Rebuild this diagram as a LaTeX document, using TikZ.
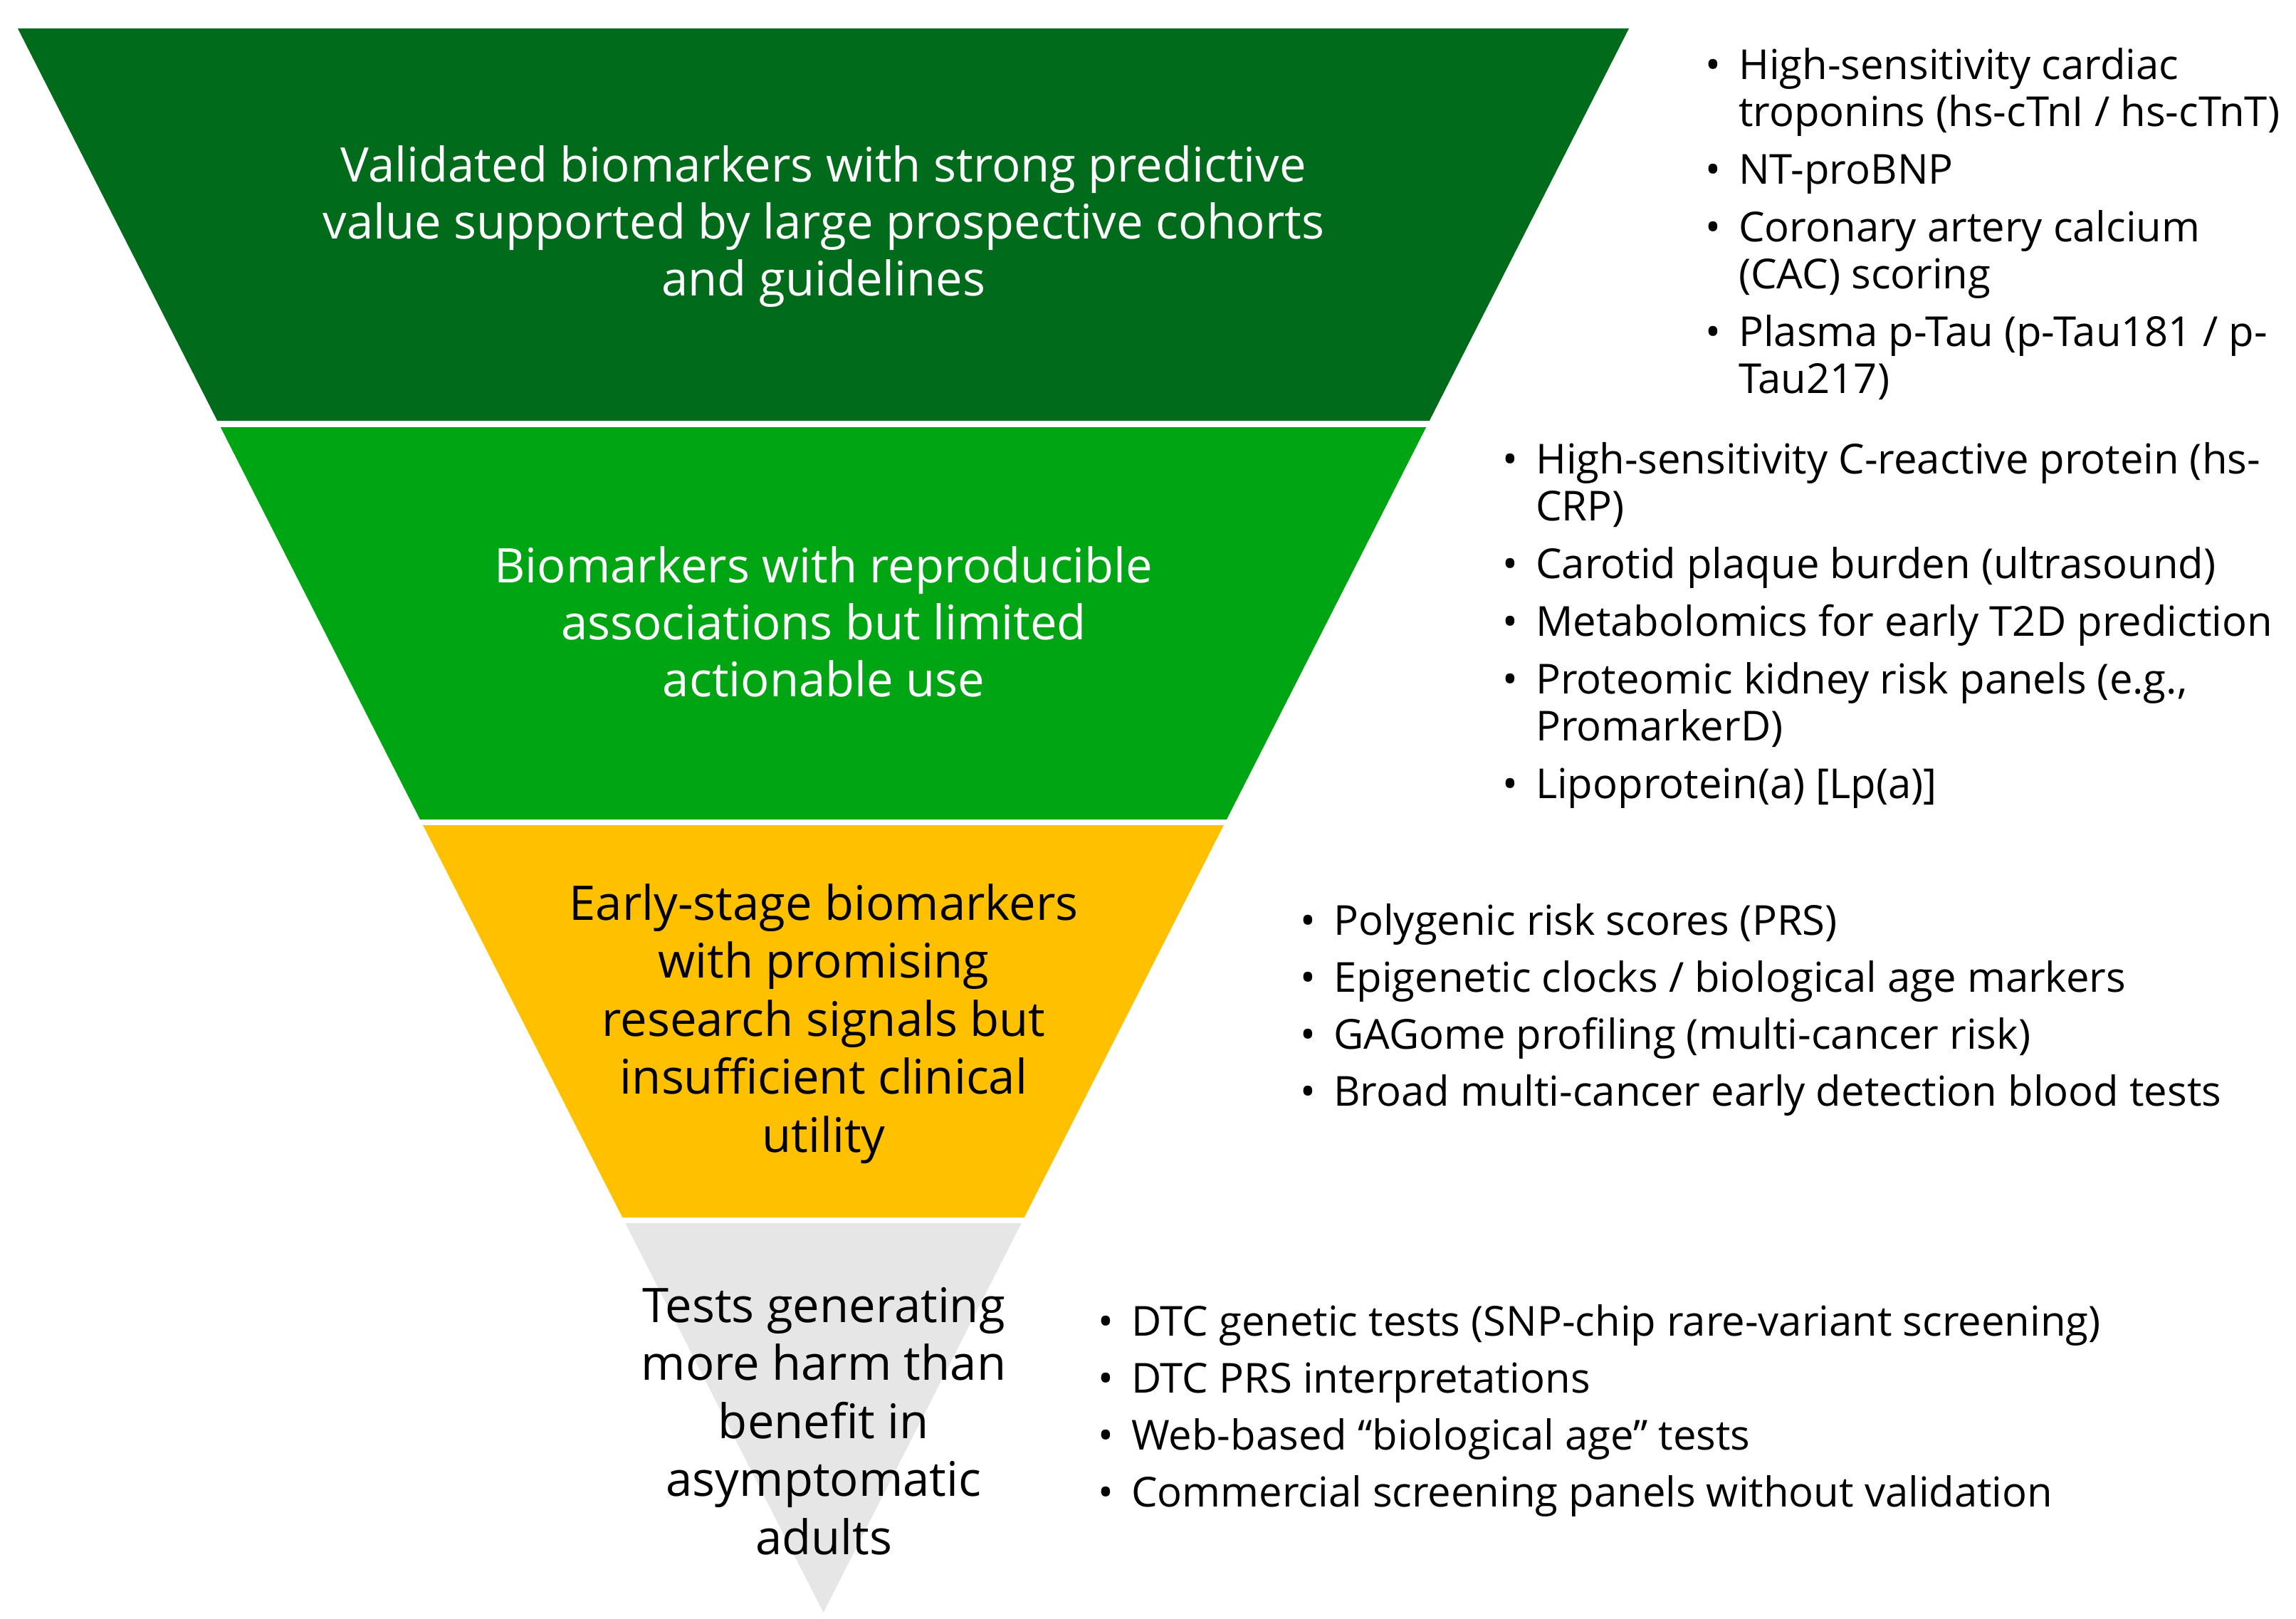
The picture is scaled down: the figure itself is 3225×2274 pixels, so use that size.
\documentclass[tikz,border=0pt]{standalone}
\usepackage{fontspec}
\setmainfont{Open Sans}
\definecolor{bandA}{RGB}{0,107,27}
\definecolor{bandB}{RGB}{0,165,20}
\definecolor{bandC}{RGB}{255,192,0}
\definecolor{bandD}{RGB}{231,230,230}
\newcommand{\bul}{\makebox[47pt][l]{•}}
\newcommand{\ind}{\hspace*{47pt}}
\tikzset{
  bandtext/.style={align=center, inner sep=0pt, font=\fontsize{67}{80}\selectfont},
  bandtextwide/.style={align=center, inner sep=0pt, font=\fontsize{67}{81.5}\selectfont},
  listtext/.style={anchor=base west, inner sep=0pt, font=\fontsize{58}{66}\selectfont}
}
\begin{document}
\begin{tikzpicture}[x=1pt,y=-1pt]
\useasboundingbox (0,0) rectangle (3225,2274);
% pyramid bands
\fill[bandA] (25,40) -- (2288,40) -- (2007.8,591) -- (305.2,591) -- cycle;
\fill[bandB] (309.8,600) -- (2003.2,600) -- (1723.0,1151) -- (590.0,1151) -- cycle;
\fill[bandC] (594.1,1159) -- (1718.9,1159) -- (1438.7,1710) -- (874.3,1710) -- cycle;
\fill[bandD] (878.3,1718) -- (1434.7,1718) -- (1156.5,2265) -- cycle;
% band texts
\node[bandtext, text=white] (t1) at (1157,318) {Validated biomarkers with strong predictive\\value supported by large prospective cohorts\\and guidelines};
\node[bandtext, text=white] (t2) at (1157,873) {Biomarkers with reproducible\\associations but limited\\actionable use};
\node[bandtextwide, text=black] (t3) at (1157,1438) {Early-stage biomarkers\\with promising\\research signals but\\insufficient clinical\\utility};
\node[bandtextwide, text=black] (t4) at (1157,1996) {Tests generating\\more harm than\\benefit in\\asymptomatic\\adults};
% lists
\node[listtext] (l1) at (2395,112) {\begin{tabular}[t]{@{}l@{}}
\bul High-sensitivity cardiac\\
\ind troponins (hs-cTnI / hs-cTnT)\\[15pt]
\bul NT-proBNP\\[15pt]
\bul Coronary artery calcium\\
\ind (CAC) scoring\\[15pt]
\bul Plasma p-Tau (p-Tau181 / p-\\
\ind Tau217)
\end{tabular}};
\node[listtext] (l2) at (2110,665) {\begin{tabular}[t]{@{}l@{}}
\bul High-sensitivity C-reactive protein (hs-\\
\ind CRP)\\[15pt]
\bul Carotid plaque burden (ultrasound)\\[15pt]
\bul Metabolomics for early T2D prediction\\[15pt]
\bul Proteomic kidney risk panels (e.g.,\\
\ind PromarkerD)\\[15pt]
\bul Lipoprotein(a) [Lp(a)]
\end{tabular}};
\node[listtext] (l3) at (1826,1313) {\begin{tabular}[t]{@{}l@{}}
\bul Polygenic risk scores (PRS)\\[14pt]
\bul Epigenetic clocks / biological age markers\\[14pt]
\bul GAGome profiling (multi-cancer risk)\\[14pt]
\bul Broad multi-cancer early detection blood tests
\end{tabular}};
\node[listtext] (l4) at (1542,1876) {\begin{tabular}[t]{@{}l@{}}
\bul DTC genetic tests (SNP-chip rare-variant screening)\\[14pt]
\bul DTC PRS interpretations\\[14pt]
\bul Web-based “biological age” tests\\[14pt]
\bul Commercial screening panels without validation
\end{tabular}};
\end{tikzpicture}
\end{document}
